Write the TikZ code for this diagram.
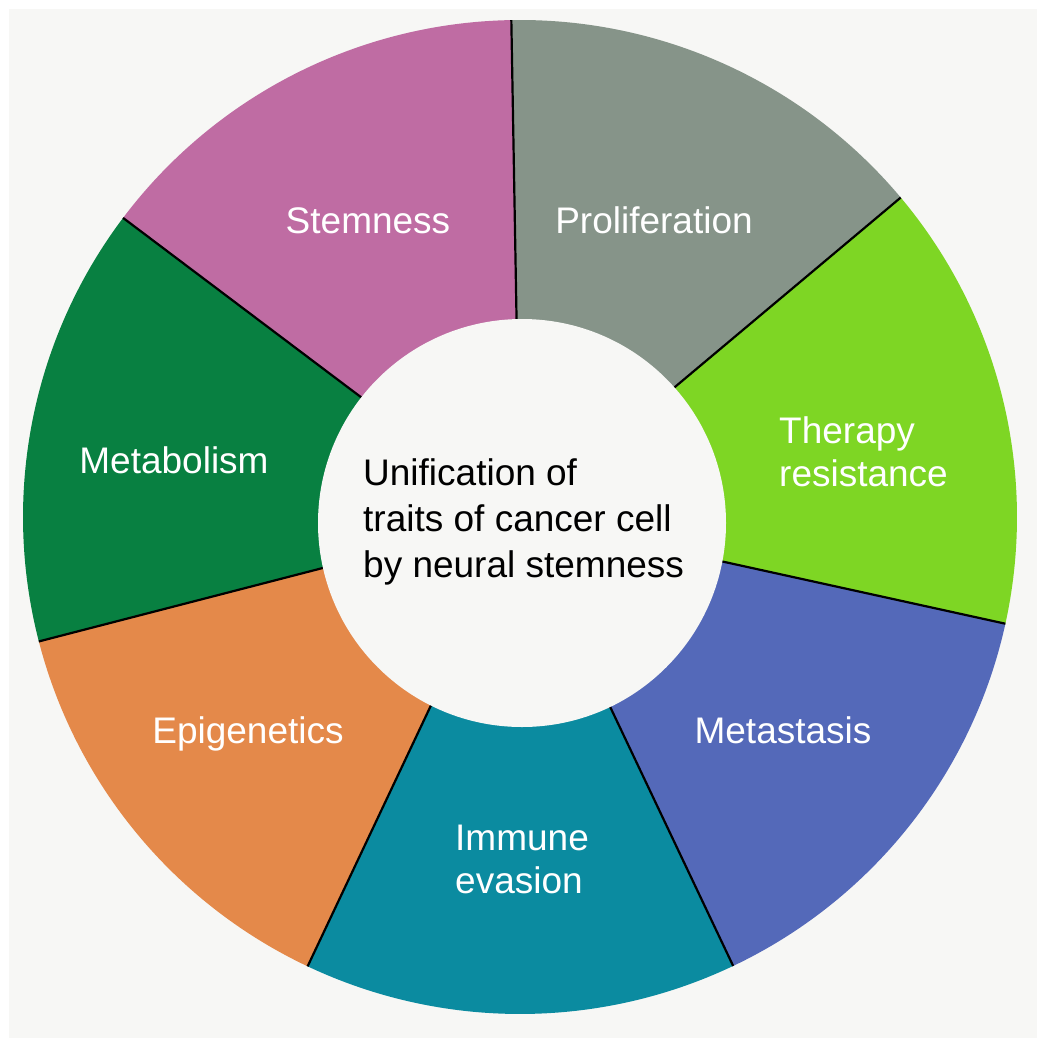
\documentclass[tikz,border=0pt]{standalone}
\usepackage{fontspec}
\setmainfont{Liberation Sans}
\definecolor{bgc}{HTML}{F7F7F5}
\definecolor{cProlif}{HTML}{869489}
\definecolor{cTherapy}{HTML}{7ED624}
\definecolor{cMeta}{HTML}{5469B9}
\definecolor{cImm}{HTML}{0B8BA0}
\definecolor{cEpi}{HTML}{E4894A}
\definecolor{cMetab}{HTML}{088041}
\definecolor{cStem}{HTML}{BF6CA3}
\begin{document}
\begin{tikzpicture}[x=1pt,y=-1pt,
  lbl/.style={text=white,font=\fontsize{37}{44}\selectfont,inner sep=0pt},
  ctxt/.style={text=black,font=\fontsize{37}{44}\selectfont,inner sep=0pt,anchor=base west},
  divider/.style={draw=black,line width=2.2pt},
  hub/.style={circle,fill=bgc,minimum size=408pt,inner sep=0pt}]
\useasboundingbox (0,0) rectangle (1045,1047);
\fill[white] (0,0) rectangle (1045,1047);
\fill[bgc] (9,9) rectangle (1037,1038);
\coordinate (C) at (520,517);
\foreach \col/\aa/\ab in {cProlif/-91/-40,cTherapy/-40/12.4,cMeta/12.4/64.6,cImm/64.6/115.3,cEpi/115.3/165.5,cMetab/165.5/217,cStem/217/269}{
  \fill[\col] (C) -- ++(\aa:497) arc[start angle=\aa, end angle=\ab, radius=497] -- cycle;
}
\foreach \aa in {-91,-40,12.4,64.6,115.3,165.5,217}{
  \draw[divider] (C) -- ++(\aa:497);
}
\node[hub] (hub) at (522,523) {};
% labels
\node[lbl,anchor=base] (stem) at (368,233) {Stemness};
\node[lbl,anchor=base] (prolif) at (654,233) {Proliferation};
\node[lbl,anchor=base west] (ther1) at (779,443) {Therapy};
\node[lbl,anchor=base west] (ther2) at (779,486) {resistance};
\node[lbl,anchor=base] (metab) at (174,473) {Metabolism};
\node[lbl,anchor=base] (epi) at (248,743) {Epigenetics};
\node[lbl,anchor=base] (meta) at (783,743) {Metastasis};
\node[lbl,anchor=base west] (imm1) at (455,850) {Immune};
\node[lbl,anchor=base west] (imm2) at (455,893) {evasion};
% centre text
\node[ctxt] (c1) at (363,485) {Unification of};
\node[ctxt] (c2) at (363,531) {traits of cancer cell};
\node[ctxt] (c3) at (363,577) {by neural stemness};
\end{tikzpicture}
\end{document}
